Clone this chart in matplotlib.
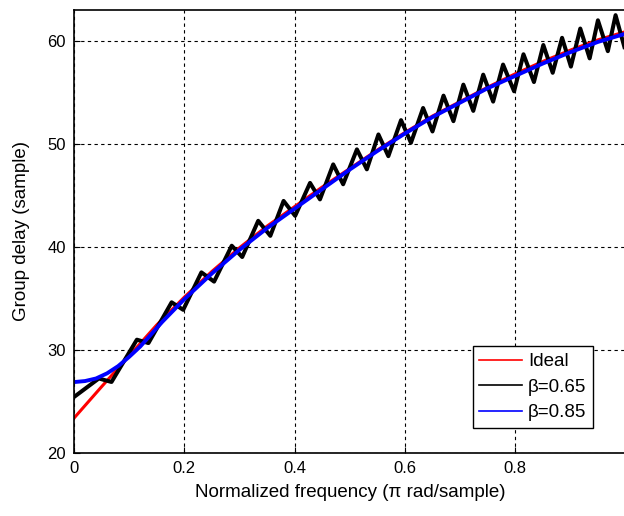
import matplotlib
matplotlib.use("Agg")
import matplotlib.pyplot as plt

plt.rcParams['font.family'] = ['Liberation Sans', 'DejaVu Sans']

# ideal group delay
x_ideal = [0, 0.05, 0.1, 0.15, 0.2, 0.25, 0.3, 0.35, 0.4, 0.45, 0.5,
           0.55, 0.6, 0.65, 0.7, 0.75, 0.8, 0.85, 0.9, 0.95, 1.0]
y_ideal = [23.35, 26.4, 29.4, 32.4, 35.1, 37.6, 39.9, 42.0, 43.9, 45.8, 47.6,
           49.4, 51.1, 52.7, 54.1, 55.5, 56.8, 58.0, 59.1, 60.1, 60.9]

# beta = 0.85 (smooth)
x_b85 = [0, 0.02, 0.04, 0.06, 0.08, 0.1, 0.12, 0.14, 0.16, 0.2, 0.25, 0.3,
         0.35, 0.4, 0.45, 0.5, 0.55, 0.6, 0.65, 0.7, 0.75, 0.8, 0.85, 0.9,
         0.95, 1.0]
y_b85 = [26.85, 26.95, 27.2, 27.7, 28.4, 29.3, 30.3, 31.5, 32.7, 34.9, 37.4,
         39.7, 41.8, 43.7, 45.6, 47.5, 49.3, 51.0, 52.6, 54.0, 55.4, 56.6,
         57.8, 58.9, 59.9, 60.7]

# beta = 0.65 (ripple), read at peaks and troughs
x_b65 = [0, 0.045, 0.068, 0.114, 0.135, 0.177, 0.198, 0.231, 0.254, 0.286,
         0.305, 0.334, 0.356, 0.380, 0.401, 0.428, 0.446, 0.470, 0.488,
         0.513, 0.531, 0.552, 0.570, 0.593, 0.611, 0.633, 0.650, 0.670,
         0.688, 0.706, 0.724, 0.742, 0.760, 0.778, 0.798, 0.815, 0.834,
         0.851, 0.868, 0.885, 0.901, 0.918, 0.935, 0.950, 0.968, 0.982, 0.998]
y_b65 = [25.4, 27.2, 26.86, 30.97, 30.64, 34.6, 33.87, 37.51, 36.61, 40.1,
         39.0, 42.52, 41.06, 44.45, 43.0, 46.2, 44.6, 48.0, 46.07,
         49.46, 47.52, 50.91, 48.8, 52.3, 50.1, 53.48, 51.2, 54.68,
         52.2, 55.75, 53.2, 56.72, 54.1, 57.7, 55.1, 58.7, 56.0,
         59.6, 56.9, 60.3, 57.5, 61.2, 58.3, 62.0, 59.0, 62.5, 59.4]

xticks = [0, 0.2, 0.4, 0.6, 0.8]
xtick_labels = ['0', '0.2', '0.4', '0.6', '0.8']
yticks = [20, 30, 40, 50, 60]

fig = plt.figure(figsize=(6.24, 5.16), dpi=100)
ax = fig.add_axes([0.1186, 0.1229, 0.8838, 0.8577])

ax.plot(x_ideal, y_ideal, color='#ff0000', lw=2.2, label='Ideal')
ax.plot(x_b65, y_b65, color='black', lw=2.9, solid_joinstyle='round',
        label='\u03b2=0.65')
ax.plot(x_b85, y_b85, color='#0000ff', lw=2.8, label='\u03b2=0.85')

ax.set_xlim(0, 1.0)
ax.set_ylim(20, 63)
ax.set_xticks(xticks)
ax.set_xticklabels(xtick_labels)
ax.set_yticks(yticks)
ax.tick_params(direction='in', labelsize=12, length=4, pad=6)
ax.grid(True, color='black', linestyle=(0, (3, 3)), linewidth=0.8)
ax.set_axisbelow(True)
for s in ax.spines.values():
    s.set_linewidth(1.2)

ax.set_xlabel('Normalized frequency (\u03c0 rad/sample)', fontsize=13.5, labelpad=6)
ax.set_ylabel('Group delay (sample)', fontsize=13.5, labelpad=12)

leg = ax.legend(loc='lower right', bbox_to_anchor=(0.941, 0.056),
                borderaxespad=0, fancybox=False, framealpha=1,
                edgecolor='black', fontsize=13.5, handlelength=2.3,
                handletextpad=0.3, labelspacing=0.45, borderpad=0.35)
leg.get_frame().set_linewidth(1.0)
for ln in leg.get_lines():
    ln.set_linewidth(1.2)

fig.savefig('out.png', dpi=100)
